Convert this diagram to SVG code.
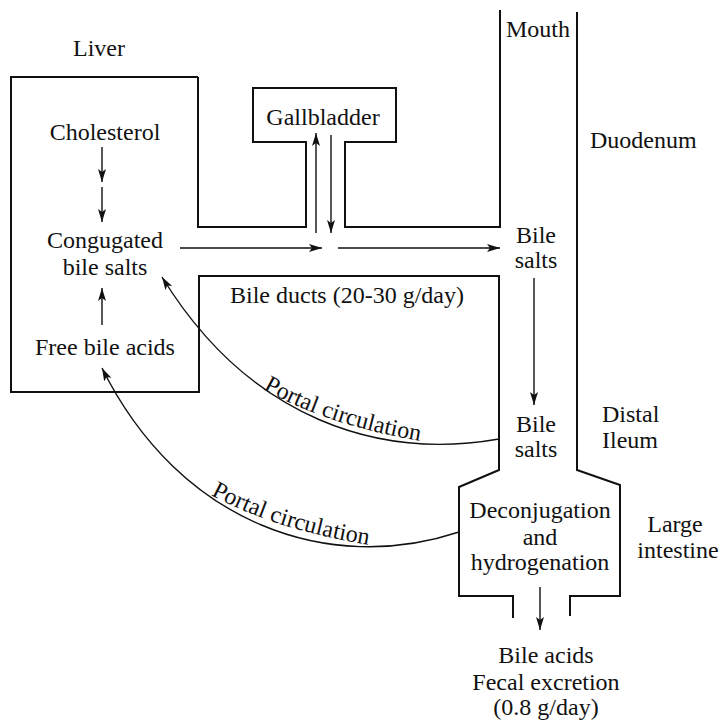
<svg xmlns="http://www.w3.org/2000/svg" width="721" height="721" viewBox="0 0 721 721">
<style>
.wall{fill:none;stroke:#111;stroke-width:2}
.arr{fill:none;stroke:#111;stroke-width:1.4;marker-end:url(#ah)}
</style>
<defs>
<marker id="ah" markerUnits="userSpaceOnUse" markerWidth="14" markerHeight="10" refX="13" refY="4" orient="auto">
<path d="M0,0 L13,4 L0,8 L3,4 z" fill="#111"/>
</marker>
<path id="tp1" d="M263,389 Q330,427 432,443"/>
<path id="tp2" d="M211,495 Q282,533 384,547"/>
</defs>
<rect width="721" height="721" fill="#fff"/>
<g font-family="'Liberation Serif', 'Times New Roman', serif" font-size="24" fill="#111">
<g id="walls">
<path class="wall" d="M198,77 L11,77 L11,392 L199,392 L199,276 L499,276 L499,470 L459,487 L459,596 L513,596 L513,618"/>
<path class="wall" d="M198,77 L198,227 L306,227 L306,142 L253,142 L253,88 L396,88 L396,142 L345,142 L345,227 L500,227 L500,10"/>
<path class="wall" d="M577,12 L577,470 L620,485 L620,596 L570,596 L570,616"/>
</g>
<g id="labels">
<text text-anchor="middle" x="99" y="56">Liver</text>
<text x="506" y="37">Mouth</text>
<text x="590" y="148">Duodenum</text>
<text x="602" y="422">Distal</text>
<text x="602" y="448">Ileum</text>
<text text-anchor="middle" x="675" y="532">Large</text>
<text text-anchor="middle" x="678" y="558">intestine</text>
<text text-anchor="middle" x="347" y="303">Bile ducts (20-30 g/day)</text>
</g>
<g id="cholesterol"><text text-anchor="middle" x="105" y="140">Cholesterol</text></g>
<g id="conjugated"><text text-anchor="middle" x="105" y="248">Congugated</text><text text-anchor="middle" x="105" y="275">bile salts</text></g>
<g id="free-acids"><text text-anchor="middle" x="105" y="355">Free bile acids</text></g>
<g id="gallbladder"><text text-anchor="middle" x="323" y="125">Gallbladder</text></g>
<g id="bile-salts-duodenum"><text text-anchor="middle" x="536" y="243">Bile</text><text text-anchor="middle" x="536" y="268">salts</text></g>
<g id="bile-salts-ileum"><text text-anchor="middle" x="536" y="432">Bile</text><text text-anchor="middle" x="536" y="457">salts</text></g>
<g id="deconjugation"><text text-anchor="middle" x="540" y="518">Deconjugation</text><text text-anchor="middle" x="540" y="545">and</text><text text-anchor="middle" x="540" y="570">hydrogenation</text></g>
<g id="excretion"><text text-anchor="middle" x="546" y="663">Bile acids</text><text text-anchor="middle" x="546" y="690">Fecal excretion</text><text text-anchor="middle" x="546" y="715">(0.8 g/day)</text></g>
<g id="connectors">
<line class="arr" x1="102" y1="147" x2="102" y2="182"/>
<line class="arr" x1="102" y1="187" x2="102" y2="222"/>
<line class="arr" x1="102" y1="325" x2="102" y2="288"/>
<line class="arr" x1="316" y1="233" x2="316" y2="133"/>
<line class="arr" x1="331" y1="135" x2="331" y2="233"/>
<line class="arr" x1="180" y1="248" x2="322" y2="248"/>
<line class="arr" x1="338" y1="248" x2="500" y2="248"/>
<line class="arr" x1="534" y1="278" x2="534" y2="405"/>
<line class="arr" x1="540" y1="587" x2="540" y2="630"/>
<path class="arr" d="M499,439 C380,460 250,420 162,277"/>
<path class="arr" d="M459,532 C330,575 180,525 102,368"/>
<text><textPath href="#tp1">Portal circulation</textPath></text>
<text><textPath href="#tp2">Portal circulation</textPath></text>
</g>
</g>
</svg>
